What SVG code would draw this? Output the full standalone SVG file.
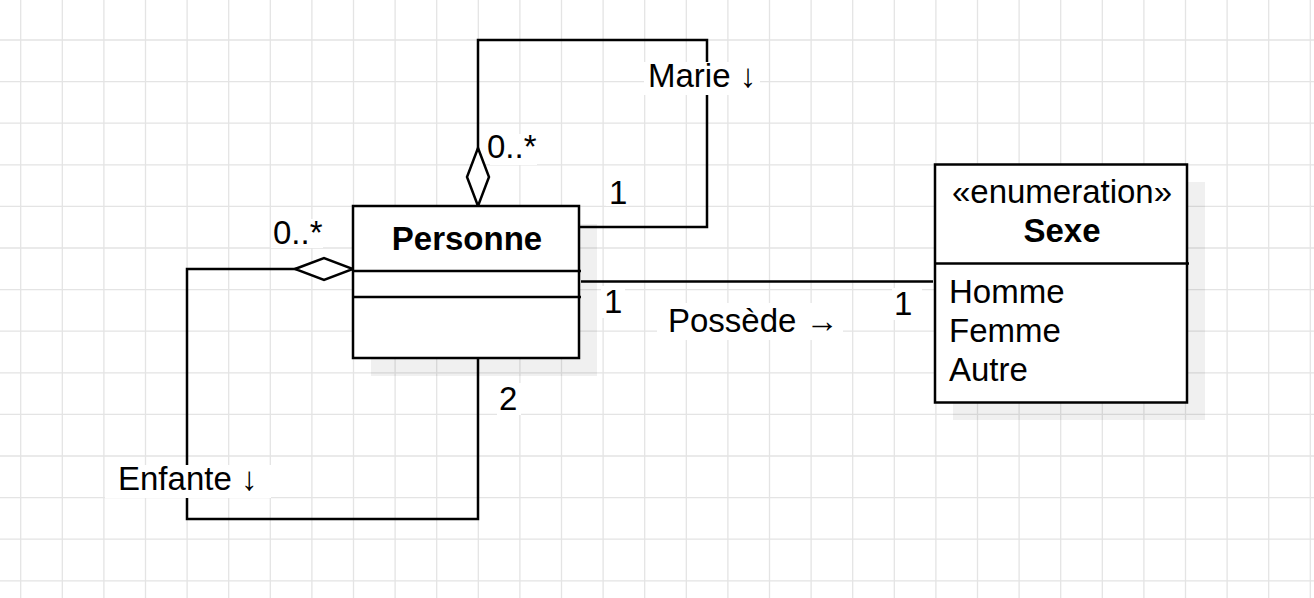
<svg xmlns="http://www.w3.org/2000/svg" width="1314" height="598" viewBox="0 0 1314 598">
  <style>
    .grid { stroke: #e4e4e4; stroke-width: 1.3; fill: none; }
    .shadow { fill: #000; fill-opacity: 0.06; }
    .box { fill: #fff; stroke: #000; stroke-width: 2.5; }
    .sep { stroke: #000; stroke-width: 2.5; }
    .edge { fill: none; stroke: #000; stroke-width: 2.5; }
    .lbl { font-family: "Liberation Sans", Arial, sans-serif; font-size: 33px; fill: #000; }
    .bold { font-weight: bold; }
    .mid { text-anchor: middle; }
    .lblbg { fill: #fff; }
  </style>
  <defs>
    <marker id="diamond" viewBox="-2 -2 62 26" markerWidth="62" markerHeight="26" refX="58" refY="11" orient="auto-start-reverse" markerUnits="userSpaceOnUse">
      <path d="M0,11 L29,0 L58,11 L29,22 Z" fill="#fff" stroke="#000" stroke-width="2.5" stroke-linejoin="miter"/>
    </marker>
  </defs>
  <rect width="1314" height="598" fill="#fff"/>
  <g id="grid" class="grid">
    <path d="M20.7,0V598 M62.3,0V598 M103.9,0V598 M145.5,0V598 M187.1,0V598 M228.7,0V598 M270.3,0V598 M311.9,0V598 M353.5,0V598 M395.1,0V598 M436.7,0V598 M478.3,0V598 M519.9,0V598 M561.5,0V598 M603.1,0V598 M644.7,0V598 M686.3,0V598 M727.9,0V598 M769.5,0V598 M811.1,0V598 M852.7,0V598 M894.3,0V598 M935.9,0V598 M977.5,0V598 M1019.1,0V598 M1060.7,0V598 M1102.3,0V598 M1143.9,0V598 M1185.5,0V598 M1227.1,0V598 M1268.7,0V598 M1310.3,0V598"/>
    <path d="M0,40H1314 M0,81.6H1314 M0,123.2H1314 M0,164.8H1314 M0,206.4H1314 M0,248H1314 M0,289.6H1314 M0,331.2H1314 M0,372.8H1314 M0,414.4H1314 M0,456H1314 M0,497.6H1314 M0,539.2H1314 M0,580.8H1314"/>
  </g>
  <g id="connectors">
    <path id="marie" class="edge" d="M478,206 V40 H707 V227 H579" marker-start="url(#diamond)"/>
    <path id="enfante" class="edge" d="M353,269 H187 V519 H478 V358" marker-start="url(#diamond)"/>
    <path id="possede" class="edge" d="M581,281.5 H933"/>
  </g>
  <g id="node-personne">
    <rect class="shadow" x="371" y="224" width="226" height="152"/>
    <rect class="box" x="353" y="206" width="226" height="152"/>
    <line class="sep" x1="353" y1="271" x2="581" y2="271"/>
    <line class="sep" x1="353" y1="297" x2="581" y2="297"/>
    <text class="lbl bold mid" x="467" y="250">Personne</text>
  </g>
  <g id="node-sexe">
    <rect class="shadow" x="953" y="182" width="252" height="238"/>
    <rect class="box" x="935" y="164.5" width="252" height="238"/>
    <line class="sep" x1="935" y1="263.5" x2="1189" y2="263.5"/>
    <text class="lbl mid" x="1062" y="203">«enumeration»</text>
    <text class="lbl bold mid" x="1062" y="242">Sexe</text>
    <text class="lbl" x="949" y="303">Homme</text>
    <text class="lbl" x="949" y="342">Femme</text>
    <text class="lbl" x="949" y="381">Autre</text>
  </g>
  <g id="labels">
    <rect class="lblbg" x="644" y="62" width="116" height="33"/>
    <text class="lbl" x="648" y="87">Marie ↓</text>
    <rect class="lblbg" x="490" y="134" width="47" height="31"/>
    <text class="lbl" x="487" y="158">0..*</text>
    <rect class="lblbg" x="606" y="177" width="22" height="29"/>
    <text class="lbl" x="609" y="204">1</text>
    <rect class="lblbg" x="271" y="219" width="52" height="29"/>
    <text class="lbl" x="273" y="244">0..*</text>
    <rect class="lblbg" x="601" y="286" width="24" height="32"/>
    <text class="lbl" x="604" y="313">1</text>
    <rect class="lblbg" x="657" y="303" width="186" height="37"/>
    <text class="lbl" x="668" y="332">Possède →</text>
    <rect class="lblbg" x="892" y="288" width="30" height="32"/>
    <text class="lbl" x="894" y="315">1</text>
    <rect class="lblbg" x="497" y="383" width="24" height="32"/>
    <text class="lbl" x="499" y="410">2</text>
    <rect class="lblbg" x="105" y="465" width="166" height="33"/>
    <text class="lbl" x="118" y="490">Enfante ↓</text>
  </g>
</svg>
